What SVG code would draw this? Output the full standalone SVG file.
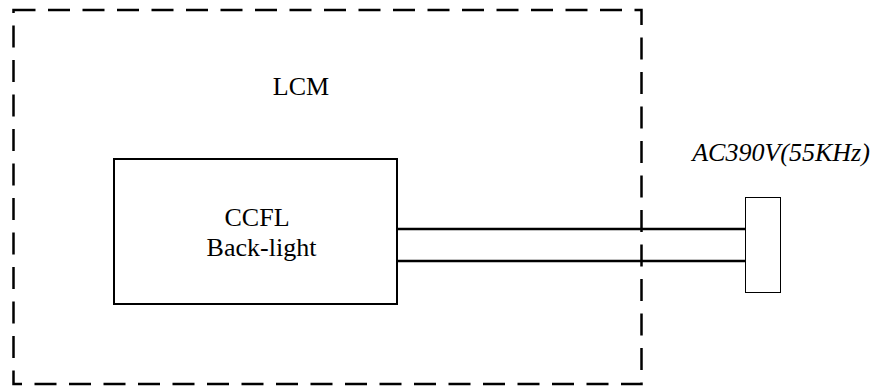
<svg xmlns="http://www.w3.org/2000/svg" width="882" height="387" viewBox="0 0 882 387">
<style>
.b{fill:#fff;stroke:#000;stroke-width:2}
.w{stroke:#000;stroke-width:2.5;fill:none}
</style>
<rect width="882" height="387" fill="#fff"/>
<g id="lcm">
<rect x="13.5" y="10" width="628" height="374" fill="none" stroke="#000" stroke-width="2.5" stroke-dasharray="22 12.5"/>
<text x="301" y="95" font-family="Liberation Serif" font-size="26" text-anchor="middle">LCM</text>
</g>
<g id="connectors">
<line class="w" x1="397" y1="229" x2="745" y2="229"/>
<line class="w" x1="397" y1="261" x2="745" y2="261"/>
</g>
<g id="ccfl">
<rect class="b" x="114" y="159" width="283" height="145"/>
<text x="257" y="226" font-family="Liberation Serif" font-size="26" text-anchor="middle">CCFL</text>
<text x="261.5" y="256" font-family="Liberation Serif" font-size="26" text-anchor="middle">Back-light</text>
</g>
<g id="connector">
<rect x="745.5" y="197.5" width="35" height="95" fill="#fff" stroke="#000" stroke-width="1"/>
<text x="781" y="161" font-family="Liberation Serif" font-size="26" font-style="italic" text-anchor="middle">AC390V(55KHz)</text>
</g>
</svg>
